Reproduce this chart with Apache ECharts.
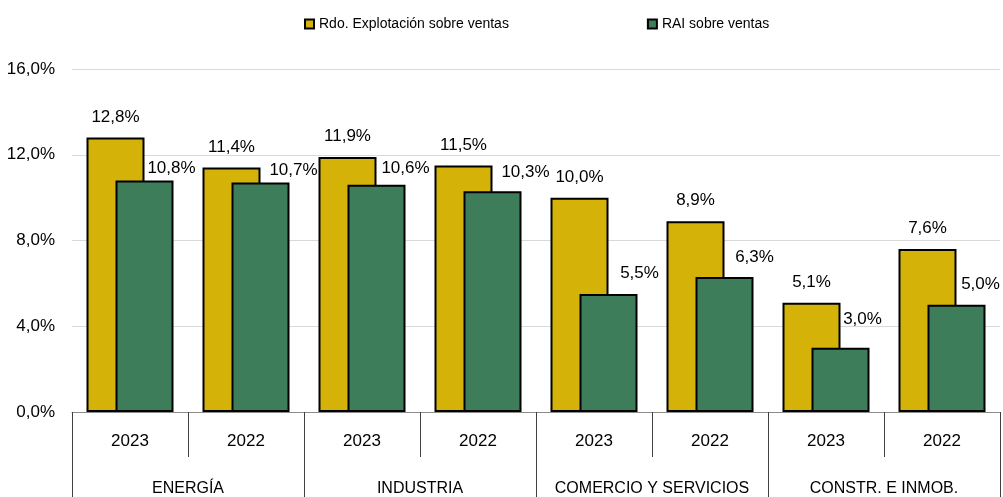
<!DOCTYPE html>
<html>
<head>
<meta charset="utf-8">
<script src="https://cdn.jsdelivr.net/npm/echarts@6/dist/echarts.min.js"></script>
<style>
html,body{margin:0;padding:0;background:#fff;}
#chart{width:1003px;height:497px;}
</style>
</head>
<body>
<div id="chart"></div>
<script>
var years = ['2023','2022','2023','2022','2023','2022','2023','2022'];
var groups = ['ENERGÍA','INDUSTRIA','COMERCIO Y SERVICIOS','CONSTR. E INMOB.'];
var seriesNames = ['Rdo. Explotación sobre ventas','RAI sobre ventas'];
var rdoValues = [12.8, 11.4, 11.9, 11.5, 10.0, 8.9, 5.1, 7.6];
var raiValues = [10.8, 10.7, 10.6, 10.3, 5.5, 6.3, 3.0, 5.0];

// label placement (manually placed labels in the original), px
var raiLabelShiftX = [27, 33, 29, 33, 31, 30, 22, 24];
var raiLabelLift   = [4, 4, 8, 10, 12, 11, 20, 12];

var FONT = '"Liberation Sans", Arial, sans-serif';
function pct(v){ return v.toFixed(1).replace('.', ',') + '%'; }

var raiData = raiValues.map(function(v, i){
  return { value: v, label: { offset: [raiLabelShiftX[i], 0], distance: raiLabelLift[i] } };
});

var chart = echarts.init(document.getElementById('chart'), null, {renderer:'canvas'});
chart.setOption({
  animation:false,
  textStyle:{fontFamily:FONT},
  legend:{
    top:12, left:299, icon:'rect',
    itemWidth:9, itemHeight:9, itemGap:138,
    itemStyle:{borderColor:'#000', borderWidth:2},
    textStyle:{fontSize:14, color:'#000', fontFamily:FONT},
    data:seriesNames
  },
  grid:{left:72, right:3, top:69, bottom:85, containLabel:false},
  xAxis:[{
    type:'category', data:years, position:'bottom',
    axisLine:{show:true, lineStyle:{color:'#8c8c8c', width:1}},
    axisTick:{show:true, alignWithLabel:false, interval:0, length:45, lineStyle:{color:'#404040', width:1}},
    axisLabel:{color:'#000', fontSize:17, margin:21, interval:0, fontFamily:FONT}
  },{
    type:'category', data:groups, position:'bottom', offset:0,
    axisLine:{show:false},
    axisTick:{show:true, interval:0, length:90, lineStyle:{color:'#404040', width:1}},
    axisLabel:{color:'#000', fontSize:16, margin:69, interval:0, fontFamily:FONT}
  }],
  yAxis:{
    type:'value', min:0, max:16, interval:4,
    axisLine:{show:false}, axisTick:{show:false},
    splitLine:{lineStyle:{color:'#d9d9d9', width:1}},
    axisLabel:{color:'#000', fontSize:17, margin:17, formatter:function(v){return pct(v);}, fontFamily:FONT}
  },
  series:[{
    name:seriesNames[0], type:'bar', xAxisIndex:0, data:rdoValues,
    barWidth:'50%', barGap:'-50%',
    itemStyle:{color:'#D4B208', borderColor:'#000', borderWidth:2},
    label:{show:true, position:'top', distance:12, color:'#000', fontSize:17, fontFamily:FONT,
      formatter:function(p){return pct(p.value);}}
  },{
    name:seriesNames[1], type:'bar', xAxisIndex:0, data:raiData,
    barWidth:'50%', barGap:'-50%',
    itemStyle:{color:'#3E7D5A', borderColor:'#000', borderWidth:2},
    label:{show:true, position:'top', distance:5, offset:[30,0], color:'#000', fontSize:17, fontFamily:FONT,
      formatter:function(p){return pct(p.value);}}
  }]
});
</script>
</body>
</html>
